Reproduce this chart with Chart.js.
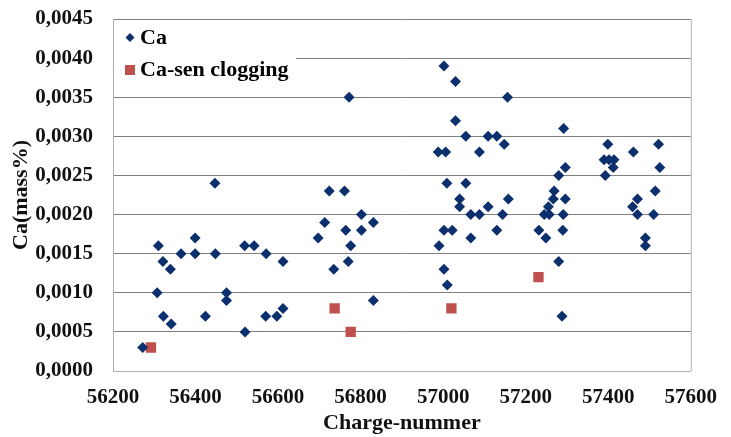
<!DOCTYPE html>
<html>
<head>
<meta charset="utf-8">
<script src="https://cdn.jsdelivr.net/npm/chart.js@4.4.1/dist/chart.umd.min.js"></script>
<style>
  html, body { margin: 0; padding: 0; background: #fff; }
  #wrap { width: 731px; height: 437px; }
</style>
</head>
<body>
<div id="wrap"><canvas id="caChart" width="731" height="437"></canvas></div>
<script>
// Ca (mass%) per charge number
const caCharge = [56272, 56310, 56307, 56321, 56339, 56322, 56341, 56365, 56399, 56399,
    56424, 56448, 56447, 56475, 56475, 56519, 56520, 56542, 56571, 56570,
    56597, 56612, 56612, 56697, 56713, 56724, 56735, 56761, 56764, 56770,
    56776, 56772, 56802, 56802, 56831, 56831, 56988, 57006, 57002, 57030,
    57030, 57009, 57055, 57055, 57040, 57040, 57002, 57022, 56990, 57002,
    57010, 57067, 57067, 57088, 57088, 57109, 57109, 57130, 57130, 57148,
    57156, 57144, 57158, 57232, 57249, 57245, 57257, 57255, 57267, 57269,
    57280, 57296, 57292, 57291, 57296, 57290, 57280, 57288, 57393, 57390,
    57402, 57414, 57412, 57399, 57461, 57459, 57471, 57471, 57490, 57490,
    57510, 57514, 57522, 57525];
const caValue = [0.0003, 0.0016, 0.0010, 0.0014, 0.0013, 0.0007, 0.0006, 0.0015, 0.0017, 0.0015,
    0.0007, 0.0015, 0.0024, 0.0010, 0.0009, 0.0016, 0.0005, 0.0016, 0.0015, 0.0007,
    0.0007, 0.0008, 0.0014, 0.0017, 0.0019, 0.0023, 0.0013, 0.0023, 0.0018, 0.0014,
    0.0016, 0.0035, 0.0020, 0.0018, 0.0019, 0.0009, 0.0028, 0.0028, 0.0039, 0.0037,
    0.0032, 0.0024, 0.0030, 0.0024, 0.0022, 0.0021, 0.0018, 0.0018, 0.0016, 0.0013,
    0.0011, 0.0020, 0.0017, 0.0028, 0.0020, 0.0030, 0.0021, 0.0030, 0.0018, 0.0029,
    0.0035, 0.0020, 0.0022, 0.0018, 0.0017, 0.0020, 0.0020, 0.0021, 0.0022, 0.0023,
    0.0025, 0.0026, 0.0031, 0.0020, 0.0022, 0.0018, 0.0014, 0.0007, 0.0025, 0.0027,
    0.0027, 0.0027, 0.0026, 0.0029, 0.0028, 0.0021, 0.0022, 0.0020, 0.0017, 0.0016,
    0.0020, 0.0023, 0.0029, 0.0026];

// Ca-sen clogging charges
const clogCharge = [56292, 56737, 56776, 57020, 57231];
const clogValue = [0.0003, 0.0008, 0.0005, 0.0008, 0.0012];

const xTicks = [56200, 56400, 56600, 56800, 57000, 57200, 57400, 57600];
const yTicks = [0, 0.0005, 0.0010, 0.0015, 0.0020, 0.0025, 0.0030, 0.0035, 0.0040, 0.0045];

const seriesNames = ['Ca', 'Ca-sen clogging'];
const navy = '#0c2f6e';
const red = '#c0504d';
const serif = "'Liberation Serif', 'Times New Roman', serif";

const toPoints = (xs, ys) => xs.map((x, i) => ({ x: x, y: ys[i] }));

// legend inside the plot, on a white box over the grid
const boxLegend = {
    id: 'boxLegend',
    afterDatasetsDraw(chart) {
        const c = chart.ctx;
        const a = chart.chartArea;
        c.save();
        c.fillStyle = '#fff';
        c.fillRect(a.left + 1, a.top + 3, 182, 66);
        // right border of the plot
        c.strokeStyle = '#b0b0b0';
        c.lineWidth = 1;
        c.beginPath();
        c.moveTo(a.right + 0.5, a.top);
        c.lineTo(a.right + 0.5, a.bottom);
        c.stroke();

        const lx = a.left + 17;
        c.fillStyle = navy;
        c.beginPath();
        c.moveTo(lx, a.top + 14);
        c.lineTo(lx + 4.5, a.top + 18.5);
        c.lineTo(lx, a.top + 23);
        c.lineTo(lx - 4.5, a.top + 18.5);
        c.closePath();
        c.fill();
        c.fillStyle = red;
        c.fillRect(lx - 5, a.top + 46, 10, 10);

        c.fillStyle = '#000';
        c.font = 'bold 22px ' + serif;
        c.textBaseline = 'middle';
        c.fillText(seriesNames[0], lx + 10, a.top + 19);
        c.fillText(seriesNames[1], lx + 10, a.top + 51);
        c.restore();
    }
};

const ctx = document.getElementById('caChart').getContext('2d');
const caChart = new Chart(ctx, {
    type: 'scatter',
    data: {
        datasets: [{
            label: seriesNames[0],
            data: toPoints(caCharge, caValue),
            pointStyle: 'rectRot',
            pointRadius: 5.5,
            backgroundColor: navy,
            borderColor: navy,
            borderWidth: 0
        }, {
            label: seriesNames[1],
            data: toPoints(clogCharge, clogValue),
            pointStyle: 'rect',
            pointRadius: 7.3,
            backgroundColor: red,
            borderColor: red,
            borderWidth: 0
        }]
    },
    options: {
        responsive: false,
        animation: false,
        layout: { padding: { top: 19, right: 28, left: 8, bottom: 0 } },
        plugins: {
            legend: { display: false },
            tooltip: { enabled: false }
        },
        scales: {
            x: {
                type: 'linear',
                min: 56200,
                max: 57600,
                afterBuildTicks: (scale) => { scale.ticks = xTicks.map(v => ({ value: v })); },
                afterFit: (scale) => { scale.height = 66; },
                grid: { display: false, drawTicks: false },
                border: { display: true, color: '#b0b0b0', width: 1 },
                ticks: {
                    padding: 14,
                    color: '#111',
                    font: { family: serif, size: 21, weight: 'bold' },
                    callback: (v) => String(v)
                },
                title: {
                    display: true,
                    text: 'Charge-nummer',
                    color: '#111',
                    font: { family: serif, size: 22, weight: 'bold' },
                    padding: { top: 0, bottom: 0 }
                }
            },
            y: {
                min: 0,
                max: 0.0045,
                afterBuildTicks: (scale) => { scale.ticks = yTicks.map(v => ({ value: v })); },
                afterFit: (scale) => {
                    scale.width = 105;
                    scale.paddingTop = 0;
                    scale.paddingBottom = 0;
                },
                grid: { color: '#808080', lineWidth: 1, drawTicks: false },
                border: { display: true, color: '#b0b0b0', width: 1 },
                ticks: {
                    padding: 20,
                    color: '#111',
                    font: { family: serif, size: 21, weight: 'bold' },
                    callback: (v) => v.toFixed(4).replace('.', ',')
                },
                title: {
                    display: true,
                    text: 'Ca(mass%)',
                    color: '#111',
                    font: { family: serif, size: 22, weight: 'bold' },
                    padding: { top: 0, bottom: 6 }
                }
            }
        }
    },
    plugins: [boxLegend]
});
</script>
</body>
</html>
